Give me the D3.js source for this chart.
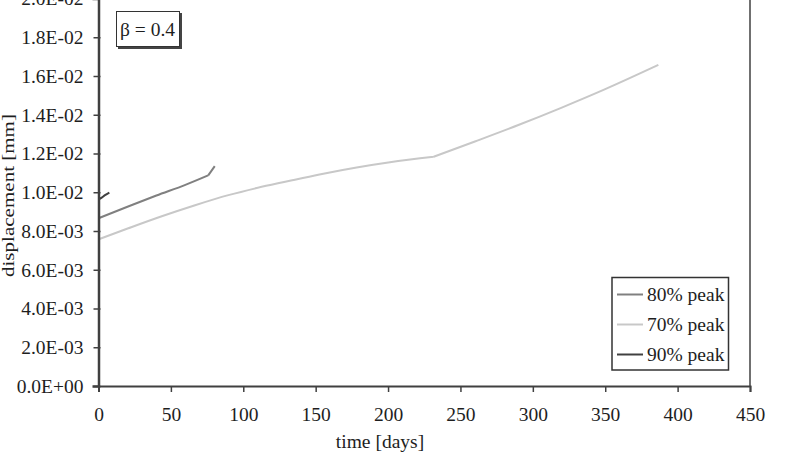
<!DOCTYPE html>
<html><head><meta charset="utf-8">
<script src="https://cdn.jsdelivr.net/npm/d3@7"></script>
<style>body{margin:0;background:#fff}svg{display:block}text{font-family:"Liberation Serif","Times New Roman",serif}</style>
</head><body>
<svg id="c" width="798" height="453"></svg>
<script>
const xTicks = [0,50,100,150,200,250,300,350,400,450];
const yTicks = [0,0.002,0.004,0.006,0.008,0.010,0.012,0.014,0.016,0.018,0.020];
const yTickLabels = ["0.0E+00","2.0E-03","4.0E-03","6.0E-03","8.0E-03","1.0E-02","1.2E-02","1.4E-02","1.6E-02","1.8E-02","2.0E-02"];
const seriesNames = ["80% peak","70% peak","90% peak"];
const seriesColors = ["#808080","#c8c8c8","#404040"];
const t80 = [0,20,40,60,75.8,80.3];
const v80 = [0.00866,0.00925,0.00983,0.01038,0.01087,0.01135];
const kink80 = 75.8;
const t70 = [0,20.6,43.7,66.7,89.7,112.7,135.7,155.3,178.3,201.3,231.5,260,290,320,350,386.7];
const v70 = [0.00757,0.00814,0.00876,0.00933,0.00985,0.01028,0.01065,0.01096,0.01128,0.01155,0.01183,0.01262,0.01347,0.01437,0.01532,0.01657];
const kink70 = 231.5;
const t90 = [0,1.5,4.5,7.5];
const v90 = [0.00965,0.00969,0.00985,0.00998];
const kink90 = null;
const betaLabel = "\u03b2 = 0.4";

const svg = d3.select("#c");
const x = d3.scaleLinear().domain([0,450]).range([98.5,750]);
const y = d3.scaleLinear().domain([0,0.02]).range([386,-1.5]);
const axisColor = "#404040";
const textColor = "#1e1e1e";
const fs = "19.5px";

// frame right/top
svg.append("line").attr("x1",x(450)).attr("x2",x(450)).attr("y1",y(0.02)).attr("y2",y(0)).attr("stroke",axisColor).attr("stroke-width",1.5);
svg.append("line").attr("x1",x(0)).attr("x2",x(450)).attr("y1",y(0.02)).attr("y2",y(0.02)).attr("stroke",axisColor).attr("stroke-width",1.5);

const series = [[t80,v80,kink80],[t70,v70,kink70],[t90,v90,kink90]];
const line = d3.line().x(d=>x(d[0])).y(d=>y(d[1])).curve(d3.curveMonotoneX);
series.forEach((s,i)=>{
  const pts = s[0].map((t,j)=>[t,s[1][j]]);
  const k = s[2];
  const segs = k==null ? [pts] : [pts.filter(p=>p[0]<=k), pts.filter(p=>p[0]>=k)];
  const d = segs.map(sg=>line(sg)).join("");
  svg.append("path").attr("d",d).attr("fill","none").attr("stroke",seriesColors[i]).attr("stroke-width",2).attr("stroke-linejoin","round");
});

// axes
const xAxis = d3.axisBottom(x).tickValues(xTicks).tickSize(6).tickPadding(15.5).tickFormat(d3.format("d"));
const gx = svg.append("g").attr("transform",`translate(0,${y(0)})`).call(xAxis);
gx.select(".domain").attr("stroke",axisColor).attr("stroke-width",2);
gx.selectAll(".tick line").attr("stroke",axisColor).attr("stroke-width",1.5);
gx.selectAll("text").attr("font-size",fs).attr("fill",textColor).attr("font-family","Liberation Serif");

const yAxis = d3.axisLeft(y).tickValues(yTicks).tickSize(6).tickPadding(9).tickFormat((d,i)=>yTickLabels[i]);
const gy = svg.append("g").attr("transform",`translate(${x(0)},0)`).call(yAxis);
gy.select(".domain").attr("stroke",axisColor).attr("stroke-width",2.5);
gy.selectAll(".tick line").attr("stroke",axisColor).attr("stroke-width",1.5).attr("x2",-5).attr("x1",2);
gy.selectAll("text").attr("font-size",fs).attr("fill",textColor).attr("font-family","Liberation Serif");

// titles
svg.append("text").attr("x",380).attr("y",448).attr("text-anchor","middle").attr("font-size",fs).attr("fill",textColor).text("time [days]");
svg.append("text").attr("transform","translate(14,195.5) rotate(-90)").attr("text-anchor","middle").attr("font-size","17px")
  .attr("textLength",163).attr("lengthAdjust","spacingAndGlyphs").attr("fill",textColor).text("displacement [mm]");

// beta box
svg.append("rect").attr("x",118).attr("y",13).attr("width",64).attr("height",36).attr("fill","#444");
svg.append("rect").attr("x",116.5).attr("y",11.5).attr("width",63).attr("height",35).attr("fill","#fff").attr("stroke","#333").attr("stroke-width",1);
svg.append("text").attr("x",147.5).attr("y",36).attr("text-anchor","middle").attr("font-size",fs).attr("fill",textColor).text(betaLabel);

// legend
svg.append("rect").attr("x",612).attr("y",277.5).attr("width",116.5).attr("height",92.5).attr("fill","#fff").attr("stroke","#333").attr("stroke-width",1.5);
seriesNames.forEach((n,i)=>{
  const yy = 294.5 + i*30;
  svg.append("line").attr("x1",617).attr("x2",643).attr("y1",yy).attr("y2",yy).attr("stroke",seriesColors[i]).attr("stroke-width",2);
  svg.append("text").attr("x",647).attr("y",yy+6.5).attr("font-size",fs).attr("fill",textColor).text(n);
});
</script>
</body></html>
